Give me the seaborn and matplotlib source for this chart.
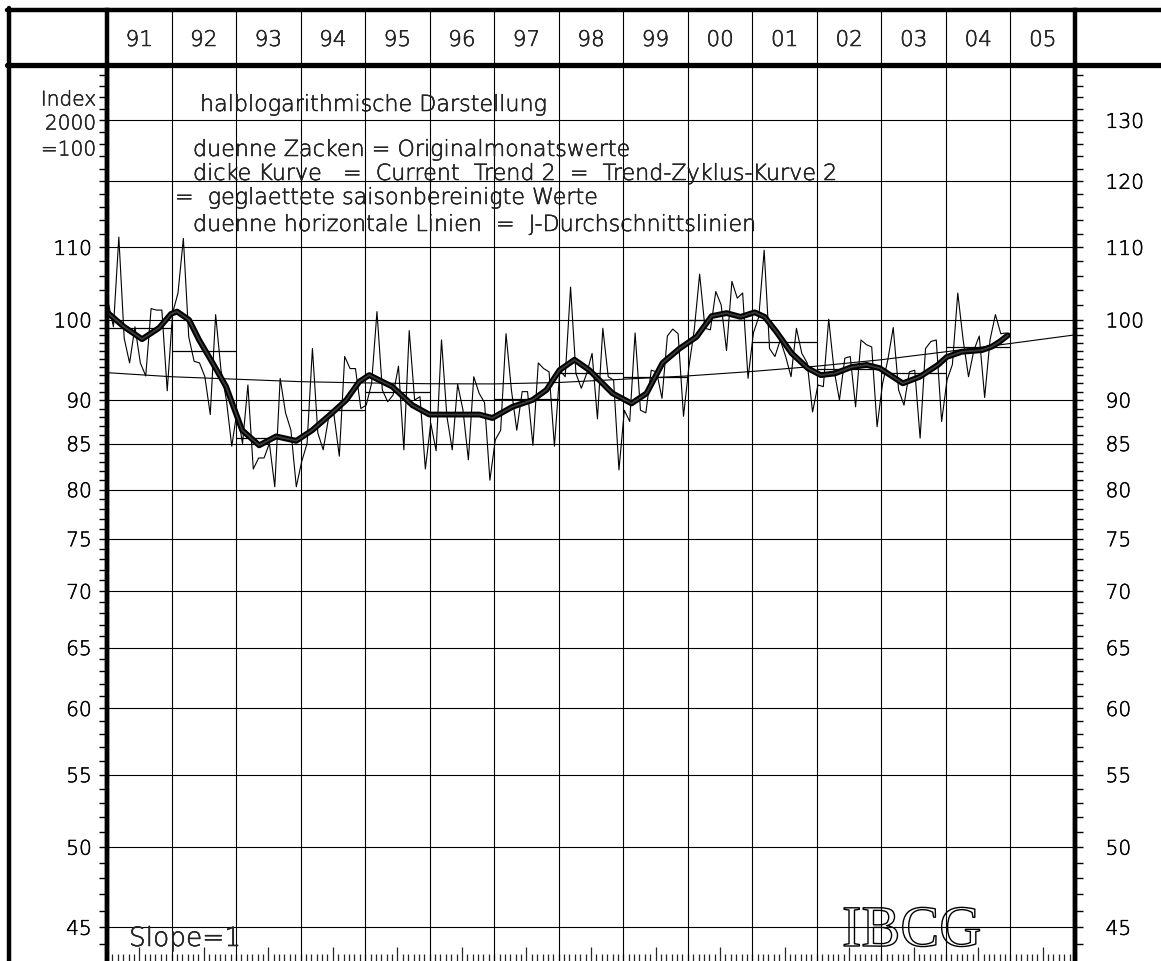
import numpy as np
import pandas as pd
import matplotlib
matplotlib.use('Agg')
import matplotlib.pyplot as plt
import matplotlib.patheffects as pe
from matplotlib.lines import Line2D
from matplotlib.ticker import FixedLocator, FixedFormatter, NullFormatter
import seaborn as sns

# --- data (Index 2000 = 100) ---
first_year = 1991
header_years = list(range(1991, 2006))
year_labels = ['91', '92', '93', '94', '95', '96', '97', '98', '99',
               '00', '01', '02', '03', '04', '05']

# original monthly values Jan 1991 .. Dec 2004, one row per year
monthly_index = [
    102.4, 99.1, 111.5, 97.6, 94.5, 99.1, 94.5, 92.9, 101.5, 101.3, 101.3, 91.1,
    100.9, 103.6, 111.3, 97.8, 94.7, 94.5, 92.8, 88.3, 100.7, 93.6, 90.0, 84.7,
    88.8, 85.0, 91.8, 82.2, 83.4, 83.4, 85.0, 80.3, 92.6, 88.5, 86.5, 80.3,
    83.0, 85.0, 96.3, 86.2, 84.3, 87.9, 88.3, 83.6, 95.3, 93.8, 93.8, 89.0,
    89.4, 92.0, 101.1, 91.2, 89.8, 90.6, 94.1, 84.3, 98.6, 90.0, 90.4, 82.2,
    87.3, 84.2, 97.4, 88.1, 84.3, 91.9, 88.8, 83.2, 92.8, 90.8, 89.7, 81.0,
    85.4, 86.5, 98.2, 91.2, 86.5, 91.0, 91.0, 84.8, 94.5, 93.8, 93.4, 84.7,
    93.6, 92.8, 104.4, 93.2, 91.4, 93.2, 95.7, 87.8, 98.9, 92.8, 92.4, 82.1,
    88.8, 87.5, 98.3, 88.8, 88.5, 93.6, 93.4, 90.2, 97.9, 98.8, 98.2, 88.1,
    94.0, 98.7, 106.2, 98.9, 98.7, 103.8, 102.0, 96.05, 105.2, 102.9, 103.6, 92.6,
    98.3, 100.4, 109.6, 96.3, 95.3, 97.4, 95.3, 92.8, 98.9, 95.7, 94.5, 88.6,
    91.8, 91.6, 100.1, 93.6, 90.0, 95.1, 95.3, 89.2, 97.4, 96.8, 96.5, 86.9,
    91.9, 94.9, 99.0, 91.2, 89.4, 93.4, 93.6, 85.6, 96.3, 97.2, 97.4, 87.5,
    92.4, 94.3, 103.6, 97.4, 92.8, 96.1, 97.9, 90.3, 97.4, 100.7, 98.2, 98.3,
]

# smoothed trend-cycle curve (Current Trend 2), read at turning points
trend_time = [
    1991.016, 1991.264, 1991.543, 1991.807, 1991.993, 1992.086, 1992.272,
    1992.427, 1992.629, 1992.846, 1993.094, 1993.358, 1993.621, 1993.932,
    1994.180, 1994.490, 1994.707, 1994.909, 1995.064, 1995.421, 1995.731,
    1995.995, 1996.569, 1996.770, 1996.972, 1997.282, 1997.592, 1997.809,
    1998.011, 1998.244, 1998.476, 1998.833, 1999.128, 1999.361, 1999.609,
    1999.872, 2000.136, 2000.369, 2000.601, 2000.818, 2001.036, 2001.191,
    2001.377, 2001.610, 2001.858, 2002.060, 2002.278, 2002.540, 2002.773,
    2002.975, 2003.332, 2003.596, 2003.875, 2004.014, 2004.247, 2004.557,
    2004.712, 2004.836, 2004.960,
]
trend_index = [
    100.9, 99.1, 97.5, 98.95, 100.8, 101.1, 100.0,
    97.4, 94.6, 91.6, 86.5, 84.8, 85.8, 85.3,
    86.5, 88.5, 90.0, 92.2, 93.0, 91.6, 89.4,
    88.3, 88.3, 88.3, 87.9, 89.2, 90.0, 91.2,
    93.6, 94.9, 93.6, 90.8, 89.6, 90.8, 94.5,
    96.3, 97.8, 100.5, 100.9, 100.4, 101.0, 100.4,
    98.4, 95.7, 93.85, 93.0, 93.2, 94.0, 94.25,
    93.85, 92.0, 92.8, 94.25, 95.25, 95.9, 96.1,
    96.55, 97.2, 98.0,
]

# long-run trend line, read at the year boundaries
longterm_years = list(range(1991, 2007))
longterm_index = [93.3, 92.8, 92.5, 92.2, 92.05, 91.95, 91.93, 92.1, 92.5,
                  92.9, 93.45, 94.1, 94.9, 95.9, 96.95, 98.05]

# annual averages (J-Durchschnittslinien)
annual_years = list(range(1991, 2005))
annual_means = [98.9, 96.05, 85.6, 88.8, 91.0, 88.3, 90.1, 93.2, 92.8,
                100.0, 97.1, 93.7, 93.2, 96.5]

grid_levels = [45, 50, 55, 60, 65, 70, 75, 80, 85, 90, 100, 110, 120, 130]
left_labels = [45, 50, 55, 60, 65, 70, 75, 80, 85, 90, 100, 110]
right_labels = grid_levels
tick_levels = list(range(44, 100)) + list(range(100, 141, 2))

# --- frames ---
months = pd.DataFrame({'t': first_year + (np.arange(len(monthly_index)) + 0.2) / 12,
                       'v': monthly_index})
trend = pd.DataFrame({'t': trend_time, 'v': trend_index})
longterm = pd.DataFrame({'t': longterm_years, 'v': longterm_index})

sns.set_style('white')
plt.rcParams['font.family'] = ['DejaVu Sans']
plt.rcParams['font.weight'] = 200

ink = [pe.withStroke(linewidth=0.35, foreground='black')]

W, H = 1161, 961
fig = plt.figure(figsize=(W / 100, H / 100), dpi=100)

x0, x1 = 107 / W, 1075 / W
y_head = (H - 64.5) / H
y_top = (H - 10) / H
ax = fig.add_axes([x0, 0, x1 - x0, y_head])
axh = fig.add_axes([x0, y_head, x1 - x0, y_top - y_head])

ymin, ymax = 43.05, 139.9
ax.set_yscale('log')
ax.set_xlim(1991, 2006)
ax.set_ylim(ymin, ymax)

# grid
for lv in grid_levels:
    ax.axhline(lv, color='black', lw=0.8, zorder=1)
for yr in header_years[1:]:
    ax.axvline(yr, color='black', lw=0.8, zorder=1)

# series
sns.lineplot(data=longterm, x='t', y='v', ax=ax, color='black', lw=0.8,
             estimator=None, zorder=2)
ax.hlines(annual_means, annual_years, np.array(annual_years) + 1,
          color='black', lw=0.9, zorder=2)
sns.lineplot(data=months, x='t', y='v', ax=ax, color='black', lw=0.8,
             estimator=None, zorder=3)
sns.lineplot(data=trend, x='t', y='v', ax=ax, color='#3a3a3a', lw=1.3,
             estimator=None, zorder=4, solid_joinstyle='round',
             solid_capstyle='round',
             path_effects=[pe.Stroke(linewidth=4.2, foreground='black',
                                     joinstyle='round', capstyle='round'),
                           pe.Normal()])
ax.set_xlabel('')
ax.set_ylabel('')

# y ticks left
ax.yaxis.set_major_locator(FixedLocator(tick_levels))
ax.yaxis.set_minor_locator(FixedLocator([]))
ax.yaxis.set_major_formatter(FixedFormatter(
    [str(v) if v in left_labels else '' for v in tick_levels]))
ax.yaxis.set_minor_formatter(NullFormatter())
ax.tick_params(axis='y', which='major', direction='out', length=6,
               width=1.0, pad=5, labelsize=14.5, colors='black')

# y ticks right
axr = ax.twinx()
axr.set_yscale('log')
axr.set_ylim(ymin, ymax)
axr.yaxis.set_major_locator(FixedLocator(tick_levels))
axr.yaxis.set_minor_locator(FixedLocator([]))
axr.yaxis.set_major_formatter(FixedFormatter(
    [str(v) if v in right_labels else '' for v in tick_levels]))
axr.yaxis.set_minor_formatter(NullFormatter())
axr.tick_params(axis='y', which='major', direction='out', length=6,
                width=1.0, pad=16, labelsize=14.5, colors='black')

for a in (ax, axr):
    for lab in a.get_yticklabels():
        lab.set_path_effects(ink)

# month ticks on bottom edge, longer at mid-year
ax.xaxis.set_major_locator(FixedLocator(np.array(header_years) + 0.5))
ax.xaxis.set_minor_locator(FixedLocator(first_year + np.arange(0, 181) / 12))
ax.xaxis.set_major_formatter(NullFormatter())
ax.tick_params(axis='x', which='major', direction='in', length=10, width=0.9,
               bottom=True, top=False)
ax.tick_params(axis='x', which='minor', direction='in', length=5, width=0.9,
               bottom=True, top=False)

for a in (ax, axr):
    for s in ('left', 'right'):
        a.spines[s].set_linewidth(3.2)
        a.spines[s].set_color('black')
    a.spines['top'].set_visible(False)
    a.spines['bottom'].set_visible(False)

# header row with year labels
axh.set_xlim(1991, 2006)
axh.set_ylim(0, 1)
axh.set_xticks([])
axh.set_yticks([])
for yr in header_years[1:]:
    axh.axvline(yr, color='black', lw=0.8)
for yr, lab in zip(header_years, year_labels):
    axh.text(yr + 0.5, 0.45, lab, ha='center', va='center', fontsize=15.5,
             path_effects=ink)
for s in ('left', 'right'):
    axh.spines[s].set_linewidth(3.2)
    axh.spines[s].set_color('black')
axh.spines['top'].set_visible(False)
axh.spines['bottom'].set_visible(False)

# outer frame and header rule
fig.add_artist(Line2D([7 / W, 1], [y_top, y_top], color='black', lw=3.2))
fig.add_artist(Line2D([7 / W, 1], [y_head, y_head], color='black', lw=3.8))
fig.add_artist(Line2D([9 / W, 9 / W], [0, (H - 8) / H], color='black', lw=3.2))


def px(x, y):
    return x / W, 1 - y / H


# left caption
for txt, yy in [('Index', 100), ('2000', 124), ('=100', 150)]:
    fig.text(*px(96, yy), txt, ha='right', va='center', fontsize=14.5,
             path_effects=ink)

# notes inside the plot
notes = [
    ('halblogarithmische Darstellung', 200, 111),
    ('duenne Zacken = Originalmonatswerte', 193, 156),
    ('dicke Kurve   =  Current  Trend 2  =  Trend-Zyklus-Kurve 2', 193, 180),
    ('=  geglaettete saisonbereinigte Werte', 175, 204),
    ('duenne horizontale Linien  =  J-Durchschnittslinien', 193, 231),
]
for txt, xx, yy in notes:
    fig.text(*px(xx, yy), txt, ha='left', va='baseline', fontsize=16,
             path_effects=ink)

fig.text(*px(129, 946), 'Slope=1', ha='left', va='baseline', fontsize=19,
         path_effects=ink)
fig.text(*px(842, 946), 'IBCG', ha='left', va='baseline', fontsize=42,
         family='Liberation Serif', weight='normal', color='none',
         path_effects=[pe.Stroke(linewidth=1.0, foreground='black')])

fig.savefig('out.png', dpi=100, facecolor='white')
